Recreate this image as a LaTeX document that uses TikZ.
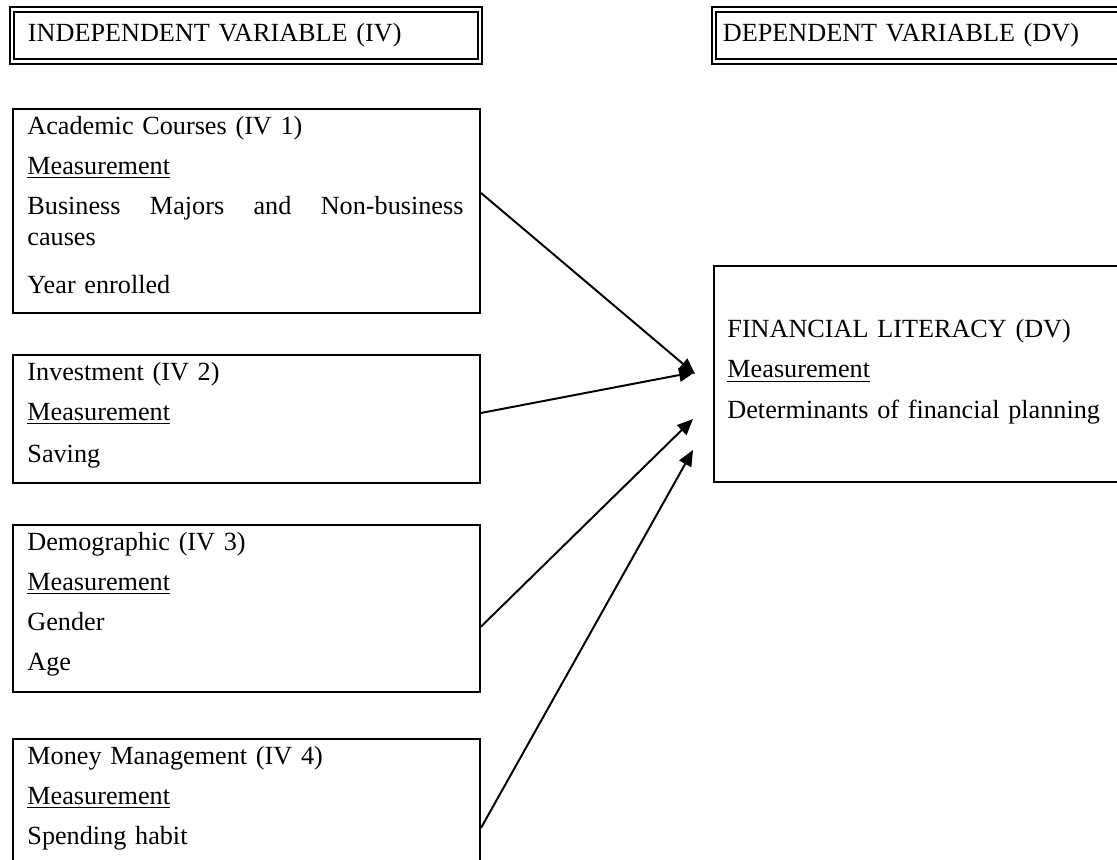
\documentclass[tikz,border=0pt]{standalone}
\usepackage{fontspec}
\setmainfont{Liberation Serif}
\usetikzlibrary{arrows.meta}
\newcommand\boxfont{\fontsize{12}{13.74}\selectfont}
\tikzset{
  hdr/.style={draw, double, double distance=1.1pt, line width=0.9pt, anchor=north west,
    minimum height=23.8pt, inner ysep=0pt, align=left, font=\boxfont},
  ivbox/.style={draw, line width=0.9pt, anchor=north west, minimum width=213.9pt, inner sep=0pt},
  boxtext/.style={anchor=base west, inner sep=0pt, text width=200pt, align=left, font=\boxfont},
  conn/.style={line width=0.9pt, -{Triangle[length=7.3pt, width=6.2pt]}}
}
\begin{document}
\begin{tikzpicture}[x=0.458pt, y=-0.458pt]
\useasboundingbox (0,0) rectangle (1117,859);
\clip (0,0) rectangle (1117,859);

% headers
\node[hdr, inner xsep=7.33pt, text width=199.7pt] (ivhead) at (11,8.5) {INDEPENDENT VARIABLE (IV)};
\node[hdr, inner xsep=4.1pt, text width=185.1pt] (dvhead) at (713,8.5) {DEPENDENT VARIABLE (DV)};

% independent variables
\node[ivbox, minimum height=93.4pt] (acad) at (12,108) {};
\node[boxtext] (acadtxt) at (27,134) {Academic Courses (IV 1)\\[4.58pt]
  \underline{Measurement}\\[4.58pt]
  \makebox[199.7pt][l]{Business\hfill Majors\hfill and\hfill Non-business}\\[0.46pt]
  causes\\[8.24pt]
  Year enrolled};

\node[ivbox, minimum height=58.6pt] (invest) at (12,354) {};
\node[boxtext] (investtxt) at (27,380) {Investment (IV 2)\\[4.58pt]
  \underline{Measurement}\\[5.5pt]
  Saving};

\node[ivbox, minimum height=76.5pt] (demo) at (12,524) {};
\node[boxtext] (demotxt) at (27,550) {Demographic (IV 3)\\[4.58pt]
  \underline{Measurement}\\[4.58pt]
  Gender\\[4.58pt]
  Age};

\node[ivbox, minimum height=65pt] (money) at (12,738) {};
\node[boxtext] (moneytxt) at (27,764) {Money Management (IV 4)\\[4.58pt]
  \underline{Measurement}\\[4.58pt]
  Spending habit};

% dependent variable
\node[ivbox, minimum width=193.3pt, minimum height=98.9pt] (finlit) at (713,265) {};
\node[boxtext, text width=185pt] (finlittxt) at (727,337) {FINANCIAL LITERACY (DV)\\[5pt]
  \underline{Measurement}\\[5pt]
  Determinants of financial planning};

% arrow tips
\coordinate (t1) at (695,374);
\coordinate (t2) at (695,372);
\coordinate (t3) at (693,419);
\coordinate (t4) at (693,450);

\draw[conn] ([yshift=8.24pt]acad.east) -- (t1);
\draw[conn] ([yshift=2.75pt]invest.east) -- (t2);
\draw[conn] ([yshift=-8.3pt]demo.east) -- (t3);
\draw[conn] ([yshift=-8.24pt]money.east) -- (t4);

\end{tikzpicture}
\end{document}
